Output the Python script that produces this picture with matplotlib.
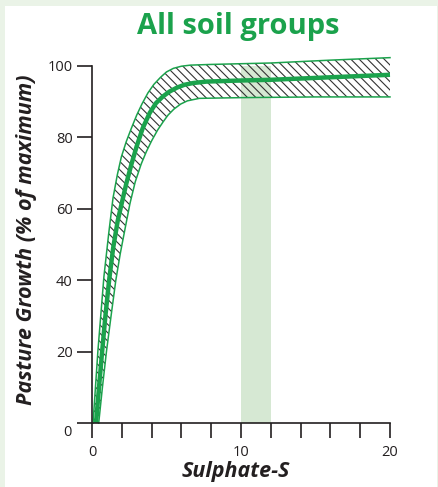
import numpy as np
import matplotlib
matplotlib.use("Agg")
from matplotlib import pyplot as plt
from matplotlib.patches import Rectangle

plt.rcParams['font.family'] = ['Open Sans', 'DejaVu Sans']
plt.rcParams['hatch.linewidth'] = 0.8

# central response curve
mid_x = [0.27, 0.47, 0.68, 0.9, 1.15, 1.42, 1.72, 2.05, 2.3, 2.65, 3.0, 3.4, 3.87, 4.3,
         4.75, 5.2, 5.7, 6.2, 6.8, 7.7, 10.0, 12.0, 16.0, 20.0]
mid_y = [0, 10, 20, 30, 40, 49, 56.5, 62.5, 67, 72.5, 77.5, 82.5, 86.8, 89.6,
         91.4, 92.8, 93.9, 94.7, 95.2, 95.6, 95.9, 96.1, 96.8, 97.5]

# upper edge of the hatched band
up_x = [0.07, 0.4, 0.8, 1.12, 1.41, 1.7, 1.97, 2.3, 2.64, 3.0, 3.35, 3.75, 4.15, 4.6,
        5.0, 5.46, 6.0, 6.6, 8.0, 12.0, 16.0, 20.0]
up_y = [0, 20.4, 41, 53, 63, 69.5, 74.5, 78.8, 82.5, 86.2, 89.3, 92.4, 94.8, 96.8,
        98.3, 99.3, 99.9, 100.2, 100.4, 100.8, 101.6, 102.3]

# lower edge of the hatched band
lo_x = [0.45, 0.7, 0.97, 1.28, 1.6, 1.9, 2.2, 2.55, 2.9, 3.3, 3.65, 4.0, 4.4, 4.77,
        5.1, 5.5, 5.95, 6.4, 7.2, 10.0, 15.0, 20.0]
lo_y = [0, 10, 20, 30, 40, 47.5, 54, 61.5, 67.5, 72.5, 76, 79, 82, 84.3,
        86.2, 87.9, 89.3, 90.2, 90.9, 91.1, 91.3, 91.3]

# recommended range shading
range_x = [10, 12]
range_y = [0, 100]

x_ticks = np.arange(0, 21, 2)
x_labels = ['0', '', '', '', '', '10', '', '', '', '', '20']
y_ticks = [0, 20, 40, 60, 80, 100]
y_labels = ['', '20', '40', '60', '80', '100']

green = '#1ba24c'
dark = '#231f20'

W, H = 439, 487
fig = plt.figure(figsize=(W / 100, H / 100), dpi=100, facecolor='#eaf3e7')
fig.patches.append(Rectangle((5 / W, 0), 432.5 / W, (H - 6) / H, transform=fig.transFigure,
                             facecolor='white', edgecolor='none', zorder=-1))

ax = fig.add_axes([92 / W, (H - 423) / H, 298 / W, 375 / H])
ax.set_zorder(2)
ax.set_facecolor('none')
ax.set_xlim(0, 20)
ax.set_ylim(0, 105)

ax.axvspan(range_x[0], range_x[1], ymin=0, ymax=range_y[1] / 105, color='#d6e8d3', lw=0, zorder=1)

bx = list(up_x) + list(lo_x[::-1])
by = list(up_y) + list(lo_y[::-1])
ax.fill(bx, by, facecolor='none', edgecolor='#333333', hatch='\\\\\\\\', lw=0, zorder=2, clip_on=False)
ax.plot(up_x, up_y, color=green, lw=1.1, zorder=3, clip_on=False)
ax.plot(lo_x, lo_y, color=green, lw=1.1, zorder=3, clip_on=False)
ax.plot(mid_x, mid_y, color=green, lw=3.2, zorder=4, clip_on=False, solid_capstyle='butt')

for s in ['top', 'right']:
    ax.spines[s].set_visible(False)
ax.spines['left'].set_bounds(0, 100)
for s in ['left', 'bottom']:
    ax.spines[s].set_color(dark)
    ax.spines[s].set_linewidth(1.2)
    ax.spines[s].set_zorder(5)

ax.set_xticks(x_ticks)
ax.set_xticklabels(x_labels)
ax.set_yticks(y_ticks)
ax.set_yticklabels(y_labels)
ax.tick_params(axis='both', direction='out', length=11, width=1.2, color=dark,
               labelcolor=dark, labelsize=10.5)
ax.tick_params(axis='x', pad=5)
ax.tick_params(axis='y', pad=3)
fig.text(72 / W, 1 - 432 / H, '0', ha='right', va='center', fontsize=10.5, color=dark)

fig.text(238 / W, 1 - 34 / H, 'All soil groups', ha='center', va='baseline',
         fontsize=21, fontweight='bold', color=green)
fig.text(236 / W, 1 - 477 / H, 'Sulphate-S', ha='center', va='baseline',
         fontsize=15.5, fontweight='bold', fontstyle='italic', color=dark)
fig.text(27 / W, 1 - 240 / H, 'Pasture Growth (% of maximum)', ha='center', va='center',
         rotation=90, fontsize=15.5, fontweight='bold', fontstyle='italic', color=dark)

fig.savefig('out.png', dpi=100, facecolor=fig.get_facecolor())
